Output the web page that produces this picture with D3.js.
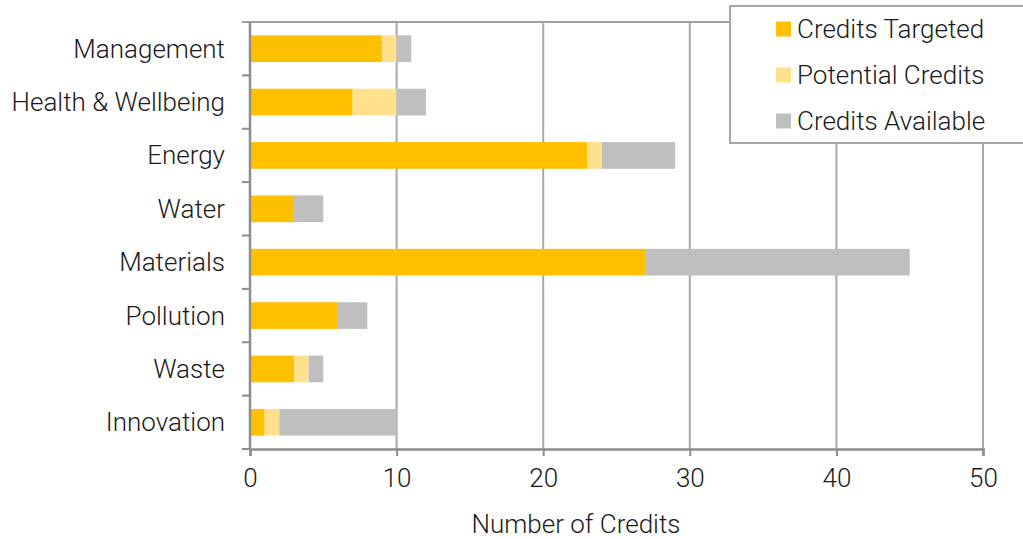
<!DOCTYPE html>
<html>
<head>
<meta charset="utf-8">
<script src="https://cdn.jsdelivr.net/npm/d3@7"></script>
<style>
  body { margin: 0; background: #fff; }
  text { font-family: Roboto, "Liberation Sans", sans-serif; font-weight: 300; fill: #1a1a1a; }
</style>
</head>
<body>
<svg id="chart"></svg>
<script>
// chart data
var categories = ['Management', 'Health & Wellbeing', 'Energy', 'Water', 'Materials', 'Pollution', 'Waste', 'Innovation']
var targeted = [9, 7, 23, 3, 27, 6, 3, 1]
var potential = [1, 3, 1, 0, 0, 0, 1, 1]
var available = [11, 12, 29, 5, 45, 8, 5, 10]   // total credits per category
var seriesNames = ['Credits Targeted', 'Potential Credits', 'Credits Available']
var xTicks = [0, 10, 20, 30, 40, 50]

var colors = ['#ffc000', '#ffe08c', '#bfbfbf']

var width = 1023,
    height = 539
var margin = {top: 22, right: 40, bottom: 90, left: 250}
var fs = '26px'

var svg = d3.select('#chart')
            .attr('width', width)
            .attr('height', height)

var x = d3.scaleLinear()
    .domain([0, 50])
    .range([margin.left, 983])

var y = d3.scaleBand()
    .domain(categories)
    .range([margin.top, height - margin.bottom])
    .paddingInner(0.5)
    .paddingOuter(0.25)

// stack rows: targeted, potential, rest of available
var rows = categories.map(function(c, i) {
  return {cat: c, t: targeted[i], p: potential[i], a: available[i] - targeted[i] - potential[i]}
})
var stack = d3.stack().keys(['t', 'p', 'a'])(rows)

// gridlines
svg.append('g').selectAll('line')
  .data(xTicks.slice(1))
  .enter().append('line')
    .attr('x1', d => x(d)).attr('x2', d => x(d))
    .attr('y1', margin.top).attr('y2', height - margin.bottom)
    .attr('stroke', '#a9a9a9')
    .attr('stroke-width', 2)

// top border line
svg.append('line')
  .attr('x1', margin.left - 8).attr('x2', x(50))
  .attr('y1', margin.top).attr('y2', margin.top)
  .attr('stroke', '#a0a0a0').attr('stroke-width', 2)

// bars
svg.append('g').selectAll('g')
  .data(stack)
  .enter().append('g')
    .attr('fill', (d, i) => colors[i])
  .selectAll('rect')
  .data(d => d)
  .enter().append('rect')
    .attr('x', d => x(d[0]))
    .attr('width', d => x(d[1]) - x(d[0]))
    .attr('y', d => y(d.data.cat))
    .attr('height', y.bandwidth())

// x axis
var xAxis = svg.append('g')
  .attr('transform', `translate(0,${height - margin.bottom})`)
  .call(d3.axisBottom(x).tickValues(xTicks).tickSize(7).tickPadding(13))
xAxis.attr('font-family', null)
xAxis.select('.domain').attr('stroke', '#8c8c8c').attr('stroke-width', 2.5)
xAxis.selectAll('.tick line').attr('stroke', '#8c8c8c').attr('stroke-width', 2)
xAxis.selectAll('text').style('font-size', fs).attr('fill', '#1a1a1a')

// y axis (ticks on band boundaries)
svg.append('line')
  .attr('x1', margin.left).attr('x2', margin.left)
  .attr('y1', margin.top).attr('y2', height - margin.bottom)
  .attr('stroke', '#8c8c8c').attr('stroke-width', 2.5)

var step = y.step()
var bounds = d3.range(categories.length).map(i => margin.top + step * (i + 1))
svg.append('g').selectAll('line')
  .data(bounds)
  .enter().append('line')
    .attr('x1', margin.left - 8).attr('x2', margin.left)
    .attr('y1', d => d).attr('y2', d => d)
    .attr('stroke', '#8c8c8c').attr('stroke-width', 2)

svg.append('g').selectAll('text')
  .data(categories)
  .enter().append('text')
    .attr('x', 225)
    .attr('y', d => y(d) + y.bandwidth() / 2)
    .attr('text-anchor', 'end')
    .attr('dominant-baseline', 'central')
    .style('font-size', fs)
    .text(d => d)

// axis title
svg.append('text')
  .attr('x', 576)
  .attr('y', 524)
  .attr('text-anchor', 'middle')
  .attr('dominant-baseline', 'central')
  .style('font-size', fs)
  .text('Number of Credits')

// legend
var legend = svg.append('g')
legend.append('rect')
  .attr('x', 730).attr('y', 6)
  .attr('width', 310).attr('height', 137)
  .attr('fill', '#fff')
  .attr('stroke', '#a6a6a6').attr('stroke-width', 2)

var items = legend.selectAll('g.item')
  .data(seriesNames)
  .enter().append('g')
    .attr('class', 'item')
    .attr('transform', (d, i) => `translate(776,${29 + i * 46})`)
items.append('rect')
  .attr('x', 0).attr('y', -7.5)
  .attr('width', 15).attr('height', 15)
  .attr('fill', (d, i) => colors[i])
items.append('text')
  .attr('x', 21)
  .attr('dominant-baseline', 'central')
  .style('font-size', fs)
  .text(d => d)
</script>
</body>
</html>
